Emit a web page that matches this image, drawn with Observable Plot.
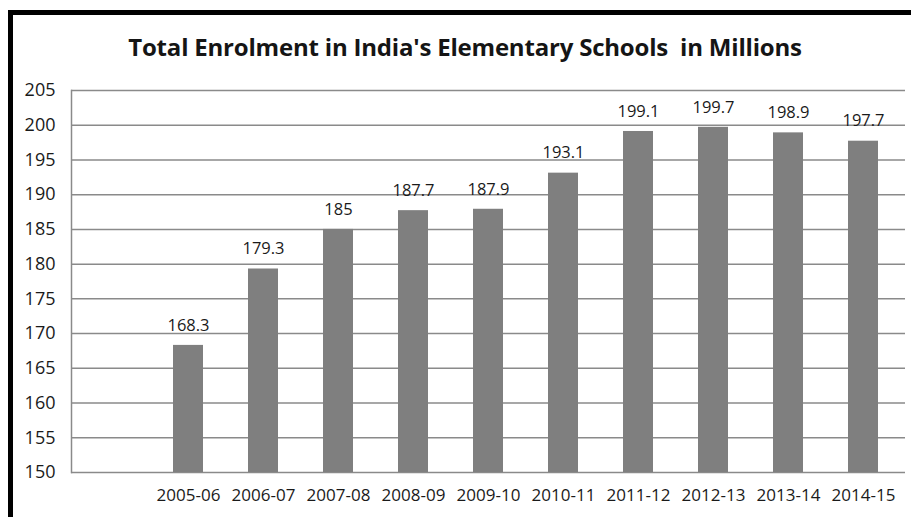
<!DOCTYPE html>
<html>
<head>
<meta charset="utf-8">
<script src="https://cdn.jsdelivr.net/npm/d3@7"></script>
<script src="https://cdn.jsdelivr.net/npm/@observablehq/plot@0.6"></script>
<style>
  html, body { margin: 0; padding: 0; background: #fff; width: 911px; height: 517px; overflow: hidden; }
  #frame { position: absolute; left: 8px; top: 10px; width: 920px; height: 520px;
           border-left: 5px solid #000; border-top: 5px solid #000; box-sizing: border-box; }
  #title { position: absolute; left: 0; width: 930px; top: 31px; text-align: center;
           font-family: "Open Sans", sans-serif; font-weight: bold; font-size: 24px; line-height: 32px; color: #151515; letter-spacing: -0.2px; }
  #chart { position: absolute; left: 0; top: 0; }
</style>
</head>
<body>
<div id="frame"></div>
<div id="chart"></div>
<div id="title">Total Enrolment in India's Elementary Schools&nbsp; in Millions</div>
<script>
const years = ["2005-06","2006-07","2007-08","2008-09","2009-10","2010-11","2011-12","2012-13","2013-14","2014-15"];
const enrolment = [168.3, 179.3, 185, 187.7, 187.9, 193.1, 199.1, 199.7, 198.9, 197.7];
const valueLabels = ["168.3","179.3","185","187.7","187.9","193.1","199.1","199.7","198.9","197.7"];
const yTicks = [150,155,160,165,170,175,180,185,190,195,200,205];

const data = years.map((y, i) => ({year: y, value: enrolment[i], label: valueLabels[i]}));
const domainX = [""].concat(years);

const chart = Plot.plot({
  width: 911,
  height: 517,
  marginLeft: 71,
  marginRight: 6,
  marginTop: 90,
  marginBottom: 45,
  style: {fontFamily: "'Open Sans', sans-serif", fontSize: "16px", color: "#1a1a1a", background: "transparent"},
  x: {domain: domainX, paddingInner: 0.6, paddingOuter: 0.3, label: null},
  y: {domain: [150, 205], ticks: yTicks, label: null},
  marks: [
    Plot.gridY(yTicks, {stroke: "#8a8a8a", strokeOpacity: 1, strokeWidth: 1.5}),
    Plot.frame({anchor: "left", stroke: "#8a8a8a", strokeWidth: 1.5}),
    Plot.barY(data, {x: "year", y1: 150, y2: "value", fill: "#7f7f7f"}),
    Plot.text(data, {x: "year", y: "value", text: "label", dy: -20, fill: "#1a1a1a", fontSize: 16.5}),
    Plot.axisX({tickSize: 0, tickPadding: 16, fontSize: 17, letterSpacing: "-0.2px", tickFormat: d => d}),
    Plot.axisY(yTicks, {tickSize: 0, tickPadding: 16, fontSize: 18})
  ]
});
document.getElementById("chart").appendChild(chart);
</script>
</body>
</html>
